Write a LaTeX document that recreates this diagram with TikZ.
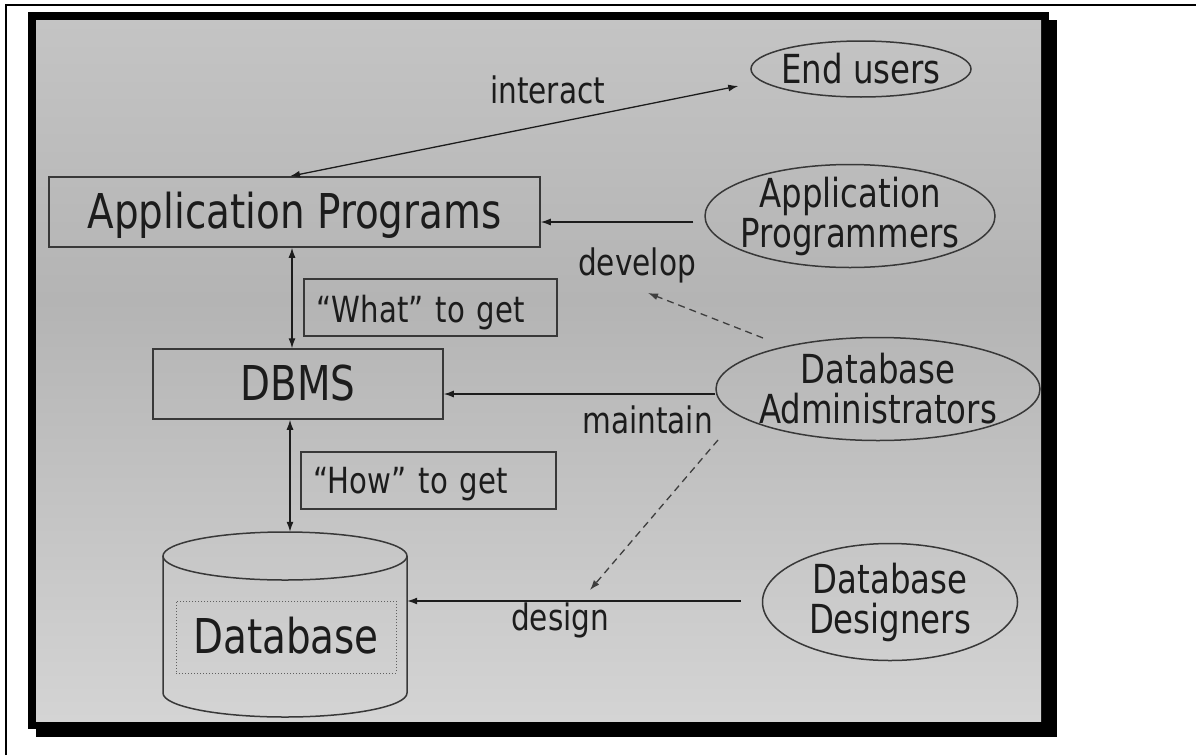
\documentclass[tikz,border=0pt]{standalone}
\usepackage{fontspec}
\setmainfont[FakeStretch=0.81]{DejaVu Sans}
\usetikzlibrary{arrows.meta,shapes.geometric,calc}
\definecolor{ptop}{HTML}{C4C4C4}
\definecolor{pmid}{HTML}{B4B4B4}
\definecolor{pbot}{HTML}{D4D4D4}
\definecolor{ink}{HTML}{1C1C1C}
\definecolor{edge}{HTML}{383838}
\pgfdeclareverticalshading{panelshade}{100bp}{color(0bp)=(pbot); color(25bp)=(pbot); color(55bp)=(pmid); color(75bp)=(ptop); color(100bp)=(ptop)}
\begin{document}
\begin{tikzpicture}[x=1pt,y=-1pt,
  >={Latex[length=10pt,width=7pt]},
  box/.style={draw=edge,line width=1.5pt,rectangle,inner sep=0pt,text=ink},
  bigtxt/.style={font=\fontsize{48}{50}\selectfont,text height=32pt,text depth=0pt},
  midtxt/.style={font=\fontsize{36}{40}\selectfont,text depth=0pt},
  oval/.style={draw=edge,line width=1.5pt,ellipse,inner sep=-12pt,text=ink,align=center,font=\fontsize{40}{40}\selectfont},
  lbl/.style={inner sep=0pt,anchor=base west,text=ink,font=\fontsize{36.5}{40}\selectfont},
  conn/.style={draw=ink,line width=1.3pt},
  dsh/.style={draw=ink!85,line width=1.3pt,dash pattern=on 7pt off 5pt}
]
\useasboundingbox (0,0) rectangle (1196,755);
\fill[white] (0,0) rectangle (1196,755);
% outer frame
\draw[line width=2pt] (6,755) -- (6,5) -- (1196,5);
% panel border and shadow
\fill[black] (28,12) rectangle (1049,729);
\fill[black] (36,20) rectangle (1057,737);
\shade[shading=panelshade] (36,20) rectangle (1041,721);

% boxes
\node[box,bigtxt,minimum width=491pt,minimum height=70pt] (app) at (294.5,212) {Application Programs};
\node[box,bigtxt,minimum width=290pt,minimum height=70pt] (dbms) at (298,384) {DBMS};
\node[box,midtxt,text height=29pt,anchor=west,inner xsep=13pt,text width=227pt,align=left,minimum height=57pt] (what) at (303,307.5) {“What” to get};
\node[box,midtxt,text height=26pt,anchor=west,inner xsep=13pt,text width=229pt,align=left,minimum height=57pt] (how) at (300,480.5) {“How” to get};

% database cylinder
\draw[edge,line width=1.5pt] (285,556) ellipse [x radius=122pt,y radius=24pt];
\draw[edge,line width=1.5pt] (163,556) -- (163,693) arc[start angle=180,end angle=360,x radius=122pt,y radius=24pt] -- (407,556);
\node[minimum width=244pt,minimum height=185pt,inner sep=0pt] (db) at (285,624.5) {};
\node[draw=edge!80,dotted,line width=1pt,minimum width=220pt,minimum height=72pt,inner sep=0pt,text=ink,bigtxt] (dbtxt) at (286,637) {Database};

% ellipses
\node[oval,minimum width=220pt,minimum height=56pt] (eu) at (861,69) {End users};
\node[oval,minimum width=290pt,minimum height=103pt] (ap) at (850,216) {Application\\Programmers};
\node[oval,minimum width=324pt,minimum height=103pt] (da) at (878,389) {Database\\Administrators};
\node[oval,minimum width=255pt,minimum height=117pt] (dd) at (890,602) {Database\\Designers};

% labels
\node[lbl] (linter) at (490,103) {interact};
\node[lbl] (ldev) at (578,275) {develop};
\node[lbl] (lmaint) at (582,433) {maintain};
\node[lbl] (ldes) at (511,630) {design};

% connectors
\draw[conn,<->] ([xshift=-4.5pt]app.north) -- ([shift={(-12pt,-17pt)}]eu.west);
\draw[conn,<->] ([xshift=-2.5pt]app.south) -- ([xshift=-2.5pt]app.south |- dbms.north);
\draw[conn,<->] ([xshift=-8pt]dbms.south) -- ([xshift=-8pt]dbms.south |- db.north);

\coordinate (apx) at ([shift={(-11pt,-6pt)}]ap.west);
\draw[conn,->] (apx) -- (apx -| app.east);
\coordinate (dax) at ([yshift=-5pt]da.west);
\draw[conn,->] (dax) -- (dax -| dbms.east);
\coordinate (ddx) at ([shift={(-21pt,1pt)}]dd.west);
\draw[conn,->] (ddx) -- (ddx -| db.east);

\coordinate (devtip) at (648,293);
\coordinate (destip) at (590,590);
\draw[dsh,->] ([shift={(-115pt,51pt)}]da.center) -- (devtip);
\draw[dsh,->] ([shift={(-160pt,-51pt)}]da.center) -- (destip);
\end{tikzpicture}
\end{document}
